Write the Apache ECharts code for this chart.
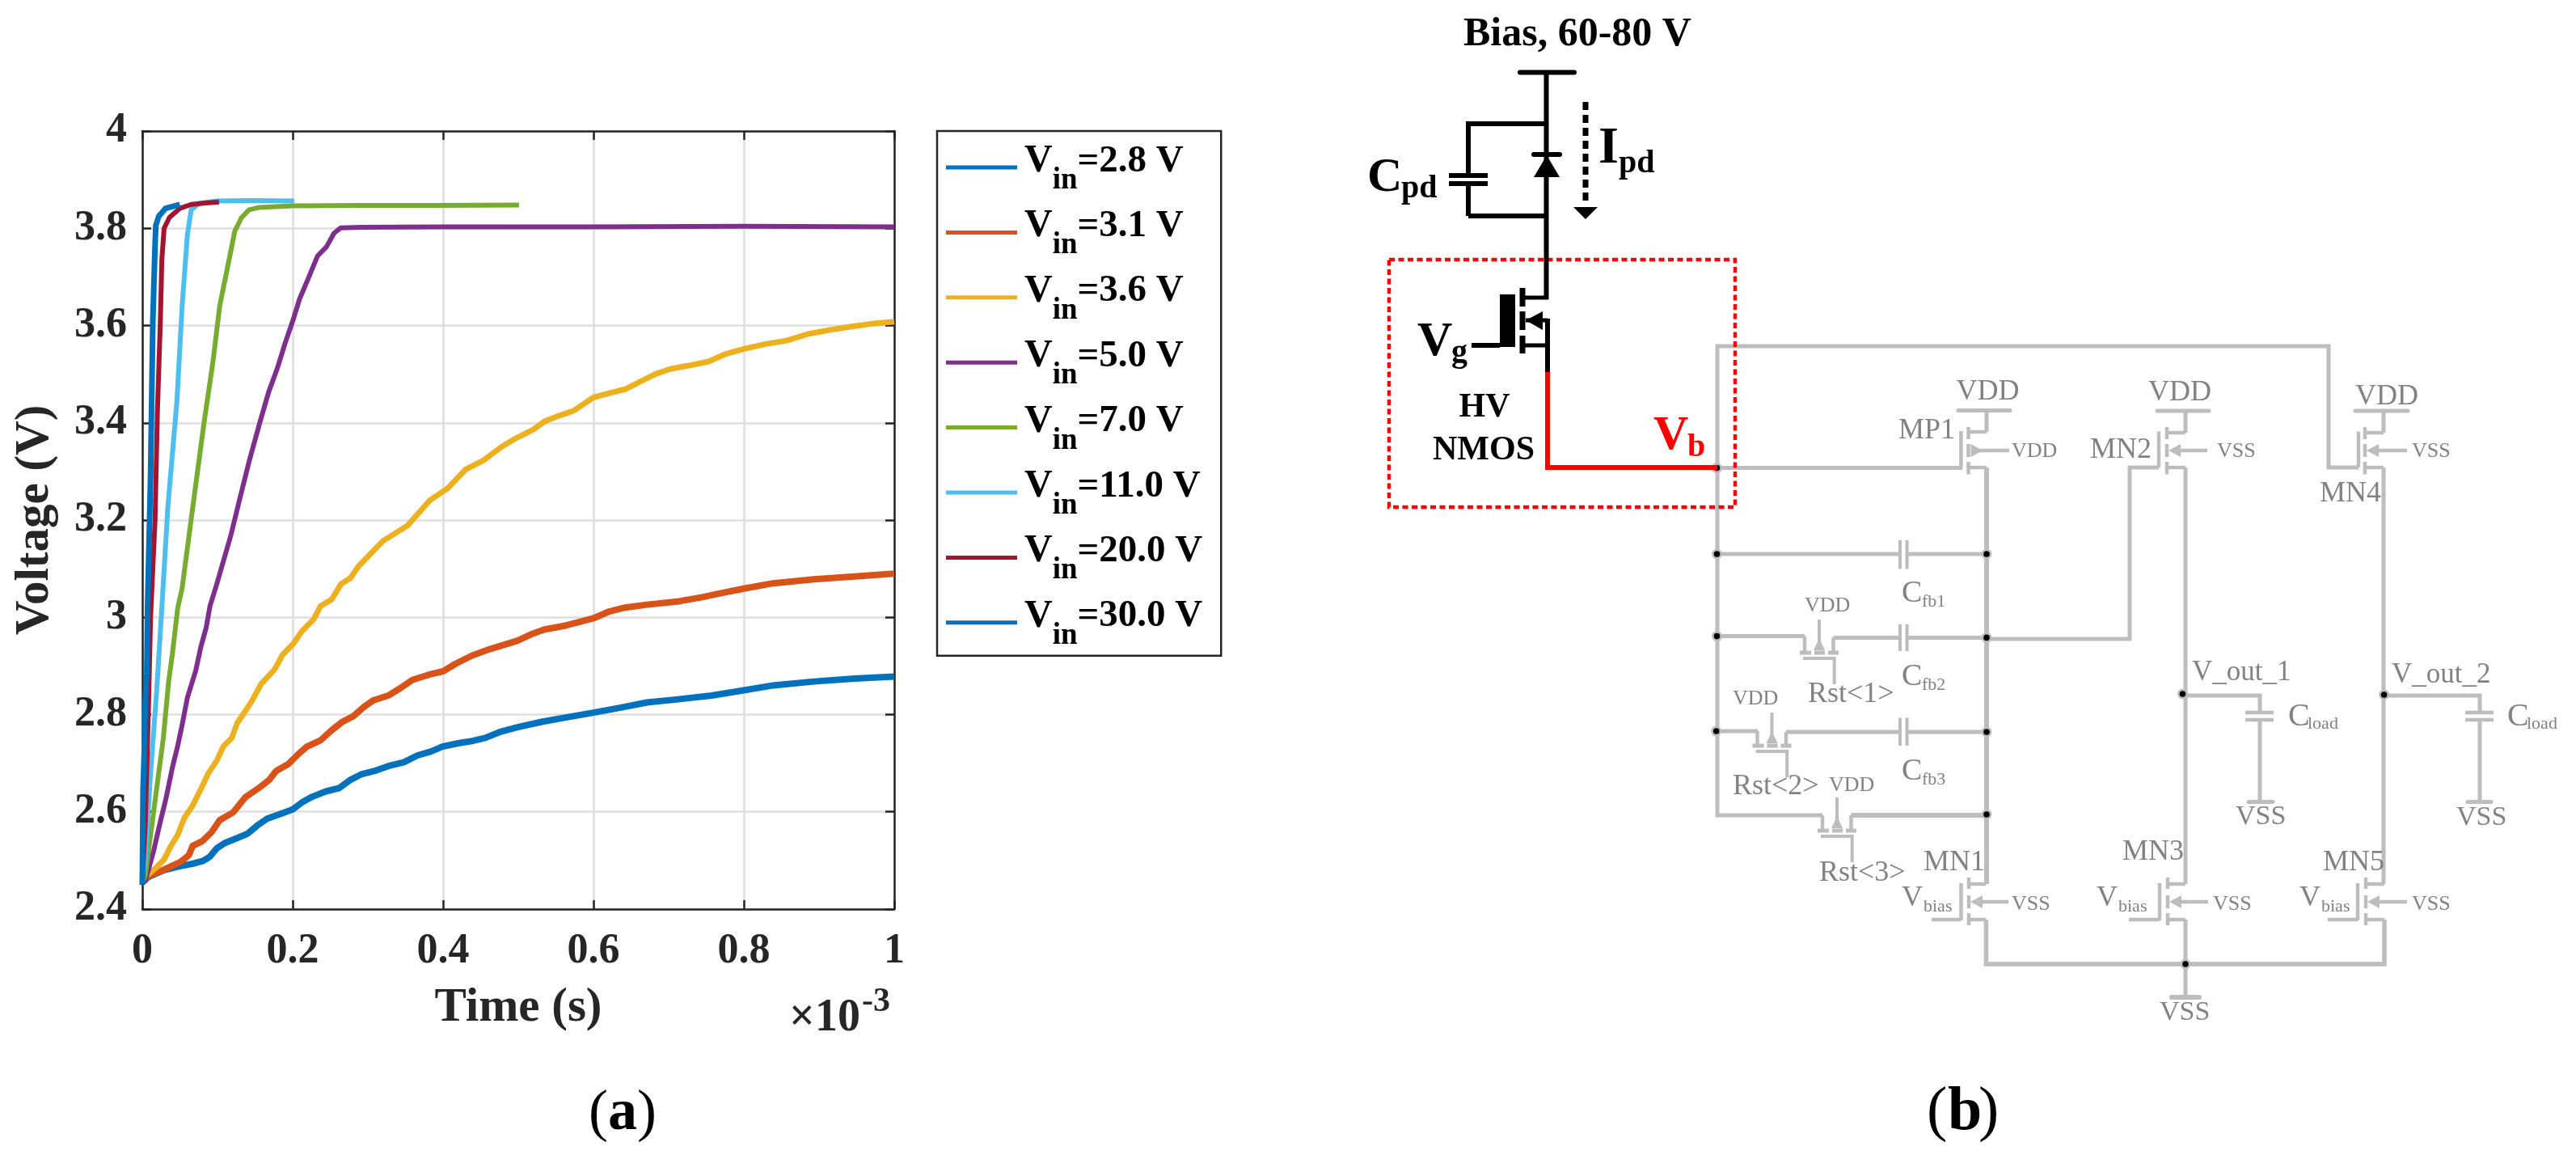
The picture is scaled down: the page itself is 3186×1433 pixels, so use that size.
<!DOCTYPE html>
<html><head><meta charset="utf-8">
<style>html,body{margin:0;padding:0;background:#fff}#c{width:3186px;height:1433px}</style>
<script src="https://cdn.jsdelivr.net/npm/echarts@6/dist/echarts.min.js"></script>
</head><body><div id="c"></div>
<script>
// ---- chart values: [time (x10^-3 s), voltage (V)] ----
const seriesNames = ['Vin=2.8 V','Vin=3.1 V','Vin=3.6 V','Vin=5.0 V','Vin=7.0 V','Vin=11.0 V','Vin=20.0 V','Vin=30.0 V'];
const seriesColors = ['#0072BD','#D95319','#EDB120','#7E2F8E','#77AC30','#4DBEEE','#A2142F','#0072BD'];
const seriesWidths = [8,8,7,6,6,6,6,7];
const xTickFormat = v => String(+v.toFixed(1));
const vin28 = [[0,2.455],[.008,2.466],[.029,2.480],[.047,2.487],[.069,2.494],[.081,2.499],[.090,2.508],[.099,2.525],[.110,2.536],[.126,2.546],[.140,2.555],[.153,2.572],[.166,2.586],[.184,2.596],[.200,2.605],[.212,2.619],[.226,2.631],[.244,2.642],[.262,2.649],[.277,2.666],[.291,2.677],[.309,2.684],[.327,2.694],[.348,2.702],[.366,2.716],[.384,2.724],[.399,2.734],[.420,2.741],[.440,2.746],[.456,2.752],[.477,2.765],[.499,2.774],[.531,2.785],[.563,2.794],[.600,2.804],[.635,2.814],[.671,2.825],[.710,2.831],[.757,2.839],[.800,2.850],[.839,2.860],[.893,2.868],[.947,2.874],[1,2.878]];
const vin31 = [[0,2.455],[.008,2.468],[.026,2.479],[.040,2.489],[.051,2.497],[.062,2.511],[.067,2.530],[.080,2.540],[.092,2.558],[.103,2.583],[.121,2.599],[.137,2.630],[.155,2.649],[.169,2.666],[.178,2.684],[.194,2.698],[.209,2.721],[.219,2.734],[.237,2.747],[.252,2.768],[.266,2.785],[.280,2.796],[.295,2.816],[.307,2.829],[.327,2.839],[.343,2.854],[.359,2.871],[.381,2.882],[.400,2.889],[.416,2.904],[.438,2.921],[.463,2.935],[.499,2.952],[.517,2.965],[.535,2.975],[.563,2.983],[.600,2.998],[.621,3.012],[.642,3.020],[.671,3.026],[.714,3.033],[.743,3.041],[.771,3.050],[.800,3.059],[.839,3.070],[.893,3.078],[.947,3.084],[1,3.090]];
const vin36 = [[0,2.455],[.004,2.466],[.019,2.486],[.029,2.502],[.038,2.530],[.047,2.552],[.056,2.588],[.067,2.613],[.078,2.647],[.088,2.680],[.099,2.705],[.108,2.735],[.119,2.752],[.126,2.782],[.137,2.807],[.146,2.829],[.158,2.863],[.176,2.893],[.187,2.924],[.201,2.946],[.212,2.971],[.228,2.996],[.237,3.023],[.252,3.037],[.264,3.068],[.277,3.081],[.287,3.104],[.320,3.157],[.353,3.189],[.382,3.240],[.406,3.265],[.430,3.304],[.454,3.323],[.478,3.351],[.499,3.370],[.520,3.386],[.535,3.403],[.553,3.414],[.574,3.425],[.592,3.444],[.600,3.452],[.621,3.461],[.642,3.469],[.660,3.483],[.682,3.500],[.703,3.511],[.728,3.518],[.753,3.526],[.775,3.541],[.800,3.552],[.829,3.562],[.857,3.569],[.886,3.583],[.915,3.591],[.943,3.598],[.972,3.604],[1,3.608]];
const vin50 = [[0,2.455],[.004,2.458],[.015,2.519],[.024,2.580],[.031,2.624],[.040,2.691],[.047,2.735],[.053,2.779],[.060,2.835],[.071,2.890],[.078,2.940],[.085,2.979],[.090,3.023],[.099,3.068],[.118,3.170],[.130,3.246],[.142,3.320],[.156,3.399],[.168,3.463],[.180,3.514],[.190,3.564],[.200,3.609],[.209,3.654],[.221,3.698],[.233,3.743],[.245,3.762],[.255,3.790],[.264,3.801],[.291,3.802],[.400,3.803],[.600,3.803],[.800,3.804],[1,3.803]];
const vin70 = [[0,2.455],[.004,2.469],[.011,2.552],[.019,2.647],[.028,2.752],[.035,2.868],[.040,2.924],[.047,3.018],[.053,3.060],[.065,3.202],[.082,3.399],[.094,3.526],[.103,3.641],[.113,3.717],[.123,3.794],[.132,3.822],[.142,3.838],[.156,3.843],[.200,3.846],[.291,3.847],[.387,3.847],[.501,3.848]];
const vin110 = [[0,2.455],[.004,2.502],[.011,2.680],[.019,2.846],[.026,3.020],[.034,3.227],[.046,3.444],[.053,3.641],[.060,3.787],[.065,3.838],[.075,3.851],[.099,3.856],[.147,3.857],[.202,3.856]];
const vin200 = [[0,2.455],[.004,2.580],[.008,2.800],[.011,3.000],[.017,3.202],[.020,3.418],[.024,3.609],[.026,3.736],[.029,3.800],[.036,3.822],[.050,3.841],[.065,3.849],[.084,3.852],[.102,3.854]];
const vin300 = [[0,2.450],[.001,2.647],[.003,2.741],[.004,2.829],[.006,2.885],[.007,3.020],[.011,3.291],[.014,3.609],[.017,3.768],[.018,3.806],[.022,3.825],[.031,3.841],[.050,3.849]];
const seriesValues = [vin28,vin31,vin36,vin50,vin70,vin110,vin200,vin300];

// ---- schematic (panel b) is a drawing, made of ECharts graphic elements ----
const SERIF = '"Liberation Serif"';
const GRAY='#bdbdbd', TXT='#828282', BLK='#000000', RED='#ff0000';
const g=[];
function W(pts,w,c,cap){g.push({type:'polyline',silent:true,shape:{points:pts},style:{stroke:c||GRAY,lineWidth:w||5,fill:null,lineCap:cap||'butt',lineJoin:'miter'}});}
function P(pts,c){g.push({type:'polygon',silent:true,shape:{points:pts},style:{fill:c||GRAY}});}
function T(s,x,base,size,c,bold,align){g.push({type:'text',silent:true,x:x,y:base-0.3375*size,style:{text:s,font:(bold?'bold ':'')+size+'px '+SERIF,fill:c||TXT,align:align||'left',verticalAlign:'middle'}});}
function N(x,y){g.push({type:'circle',silent:true,shape:{cx:x,cy:y,r:6.5},style:{fill:GRAY}});g.push({type:'circle',silent:true,shape:{cx:x,cy:y,r:3.8},style:{fill:'#000'}});}

function mos(gateX,segX,wireX,dy,barTop,barBot,drainY,srcY,segs,arrowTo,pmos){
  W([[gateX,barTop],[gateX,barBot]],4.5);
  segs.forEach(s=>W([[segX,s[0]],[segX,s[1]]],4.5));
  W([[segX,drainY],[wireX,drainY]],4.5); W([[segX,srcY],[wireX,srcY]],4.5);
  const ay=(segs[1][0]+segs[1][1])/2;
  if(pmos){W([[segX+5,ay],[arrowTo,ay]],4.5);P([[segX+18,ay],[segX+3,ay-8],[segX+3,ay+8]]);}
  else{W([[segX+14,ay],[arrowTo,ay]],4.5);P([[segX+2,ay],[segX+17,ay-8],[segX+17,ay+8]]);}
}
const upSegs=[[528,543],[549,565],[571,586.5]], loSegs=[[1085,1099],[1107,1123],[1129,1144]];
mos(2425.4,2434.5,2457,0,533,578.6,534,578,upSegs,2485,true);
mos(2670,2680,2703,0,533.5,578,535,578,upSegs,2730);
mos(2917,2925,2948,0,533.5,578,535,578,upSegs,2977);
W([[2457,534],[2457,508]],5);W([[2422,507.6],[2486,507.6]],5,GRAY,'round');
W([[2703,535],[2703,508]],5);W([[2668,508],[2732,508]],5,GRAY,'round');
W([[2948,535],[2948,508]],5);W([[2913,508],[2978,508]],5,GRAY,'round');
mos(2425.5,2435,2456.4,0,1092,1138,1093,1137,loSegs,2484);
mos(2671,2681,2703,0,1092,1138,1093,1137,loSegs,2731);
mos(2916,2926,2949,0,1092,1138,1093,1137,loSegs,2977);
W([[2389,1137],[2425,1137]],4.5);W([[2633,1137],[2671,1137]],4.5);W([[2879,1137],[2916,1137]],4.5);
function pass(l,y,leftWireY,rightWireY){
  const dy=y-807;
  W([[l,y],[l+14,y]],5);W([[l+18,y],[l+31,y]],5);W([[l+35,y],[l+48,y]],5);
  W([[l+4,814+dy],[l+42.7,814+dy],[l+42.7,846+dy]],4);
  W([[l+24,766+dy],[l+24,795+dy]],4);P([[l+24,793+dy-4],[l+17,804+dy],[l+31,804+dy]]);
  W([[l+6,leftWireY],[l+6,y]],4.5);W([[l+41.5,rightWireY],[l+41.5,y]],4.5);
}
W([[2254,1008],[2124,1008],[2124,428],[2880,428],[2880,578],[2917,578]],5);
W([[2124,578.6],[2427,578.6]],5);
W([[2457,578],[2457,1093]],6);
W([[2456.4,1137],[2456.4,1192],[2949,1192],[2949,1137]],5.5);
W([[2703,578],[2703,1093]],5);
W([[2948,578],[2948,1093]],5);
W([[2703,1137],[2703,1233]],5);
W([[2686,1233],[2720,1233]],6,GRAY,'round');
W([[2124,685],[2350,685]],5);W([[2358.6,685],[2457,685]],5);
function cap(y0,y1){W([[2350,y0],[2350,y1]],4);W([[2358.6,y0],[2358.6,y1]],4);}
cap(668,703.5);
W([[2124,786.6],[2232,786.6]],5);pass(2226,807,786.6,788.4);W([[2267.5,788.4],[2350,788.4]],5);W([[2358.6,788.4],[2457,788.4]],5);cap(772,805);
W([[2457,790],[2634,790],[2634,578],[2670,578]],5);
W([[2124,904],[2174,904]],5);pass(2167.5,922,904,905);W([[2209,905],[2350,905]],5);W([[2358.6,905],[2457,905]],5);cap(887.5,922);
pass(2248,1027,1008,1008);W([[2289.5,1008],[2457,1008]],6);
W([[2703,860],[2795,860],[2795,881]],5);W([[2777,881],[2812,881]],4.5);W([[2777,890],[2812,890]],4.5);W([[2795,890],[2795,991]],5);W([[2781,991.6],[2811,991.6]],5,GRAY,'round');
W([[2948,860],[3067,860],[3067,881]],5);W([[3049,881],[3084,881]],4.5);W([[3049,890],[3084,890]],4.5);W([[3067,890],[3067,991]],5);W([[3052,991.6],[3081,991.6]],5,GRAY,'round');
[[2123.5,578.6],[2123.5,685],[2457,685],[2123.5,786.6],[2457,788.4],[2122.7,904],[2457,905],[2457,1007],[2699.5,858],[2948.6,859],[2703,1192]].forEach(p=>N(p[0],p[1]));
T('VDD',2419.5,497,36);T('VDD',2657,497.4,36);T('VDD',2913,503,36);
T('MP1',2348,545,36);T('MN2',2585,569,36);T('MN4',2869,623,36);
T('VDD',2488,567,26);T('VSS',2742,567,26);T('VSS',2983,567,26);
T('VDD',2232,758,26);T('VDD',2143,873,26);T('VDD',2262,980,26);
T('Rst<1>',2236,871,36);T('Rst<2>',2143,985,36);T('Rst<3>',2250,1092,36);
[[2352,747,752,'fb1'],[2352,850,855,'fb2'],[2352,967,972,'fb3']].forEach(r=>{T('C',r[0],r[1],38);T(r[3],r[0]+25,r[2],22);});
T('V_out_1',2711,844,35);T('V_out_2',2958,847,35);
T('C',2830,900,40);T('load',2854,902.5,22);T('C',3101,900,40);T('load',3125,902.5,22);
T('VSS',2765,1022,34);T('VSS',3038,1023,34);T('VSS',2671,1264,34);
T('MN1',2379,1079,36);T('MN3',2625,1066,36);T('MN5',2873,1079,36);
T('VSS',2488,1127,26);T('VSS',2737,1127,26);T('VSS',2983,1127,26);
[2352,2593,2844].forEach(x=>{T('V',x,1123,36);T('bias',x+27,1129,22);});
W([[2124,578],[1914,578],[1914,460]],6,RED);
g.push({type:'rect',silent:true,shape:{x:1718,y:321,width:428,height:306},style:{stroke:RED,fill:null,lineWidth:4.5,lineDash:[7,4.5]}});
W([[1880,89.5],[1947,89.5]],6,BLK,'round');
W([[1912.5,89.5],[1912.5,370]],6,BLK);
W([[1914,394],[1914,460]],6,BLK);
W([[1816,267],[1816,230]],6,BLK);W([[1816,218],[1816,153],[1913,153]],6,BLK);W([[1816,267],[1913,267]],6,BLK);
W([[1792,217],[1840,217]],6,BLK);W([[1792,227],[1840,227]],6,BLK);
W([[1897,191],[1929,191]],6,BLK,'round');P([[1913,192],[1897,219],[1929,219]],BLK);
W([[1961,126],[1961,252]],7,BLK);
g[g.length-1].style.lineDash=[10,6];
P([[1946,256],[1976,256],[1961,271]],BLK);
W([[1885,368],[1915,368]],5,BLK);W([[1885,427],[1914,427]],5,BLK);W([[1887,396],[1914,396]],5,BLK);
[[356,379],[385,408],[415,437]].forEach(s=>W([[1883,s[0]],[1883,s[1]]],7,BLK));
g.push({type:'rect',silent:true,shape:{x:1855,y:364,width:19,height:65},style:{fill:BLK}});
W([[1820,427],[1855,427]],6,BLK);
P([[1887,396],[1908,385],[1908,408]],BLK);
T('Bias, 60-80 V',1810,60,50,BLK,true);
T('I',1977,206,64,BLK,true);T('pd',2002,216,40,BLK,true);
T('C',1691,241,60,BLK,true);T('pd',1733,247.5,40,BLK,true);
T('V',1753,444,60,BLK,true);T('g',1795,450,40,BLK,true);
T('HV',1836,518,42,BLK,true,'center');T('NMOS',1835,571,42,BLK,true,'center');
T('V',2045,560,60,RED,true);T('b',2087,567,40,RED,true);
T('(',728,1402,72,BLK);T('a',752,1402,72,BLK,true);T(')',788,1402,72,BLK);
T('(',2383,1402,76,BLK);T('b',2409,1402,76,BLK,true);T(')',2447,1402,76,BLK);
T('×',976,1278,56,'#262626',true);T('10',1008,1278,56,'#262626',true);T('-3',1066,1253,42,'#262626',true);

const tickFont={fontFamily:SERIF,fontWeight:'bold',fontSize:52,color:'#262626'};
const hiddenLabel={show:false};
const axisLine={show:true,onZero:false,lineStyle:{color:'#262626',width:2.5}};
const tick={show:true,inside:true,length:11,lineStyle:{color:'#262626',width:2.5}};
const option={
  animation:false,backgroundColor:'#fff',
  grid:{left:176,top:162,right:3186-1106,bottom:1433-1124,containLabel:false,outerBoundsMode:'none'},
  xAxis:[
    {type:'value',min:0,max:1,interval:.2,position:'bottom',axisLine,axisTick:tick,
     axisLabel:Object.assign({margin:27,formatter:xTickFormat,showMinLabel:true,showMaxLabel:true},tickFont),
     splitLine:{show:true,lineStyle:{color:'#dfdfdf',width:2.6}},
     name:'Time (s)',nameLocation:'middle',nameGap:93,nameTextStyle:{fontFamily:SERIF,fontWeight:'bold',fontSize:59,color:'#262626'}},
    {type:'value',min:0,max:1,interval:.2,position:'top',axisLine,axisTick:tick,axisLabel:hiddenLabel,splitLine:{show:false}}
  ],
  yAxis:[
    {type:'value',min:2.4,max:4,interval:.2,position:'left',axisLine,axisTick:tick,
     axisLabel:Object.assign({margin:19,showMinLabel:true,showMaxLabel:true,formatter:xTickFormat},tickFont),
     splitLine:{show:true,lineStyle:{color:'#dfdfdf',width:2.6}},
     name:'Voltage (V)',nameLocation:'middle',nameGap:103,nameRotate:90,nameTextStyle:{fontFamily:SERIF,fontWeight:'bold',fontSize:59,color:'#262626'}},
    {type:'value',min:2.4,max:4,interval:.2,position:'right',axisLine,axisTick:tick,axisLabel:hiddenLabel,splitLine:{show:false}}
  ],
  legend:{
    orient:'vertical',left:1159,top:162,data:seriesNames,icon:'rect',itemWidth:88,itemHeight:5,itemGap:10.4,
    padding:[10,23,6,11],borderColor:'#262626',borderWidth:2.5,backgroundColor:'#fff',selectedMode:false,
    formatter:n=>'{v|V}{s|in}{t|'+n.slice(3)+'}',
    textStyle:{rich:{
      v:{fontFamily:SERIF,fontWeight:'bold',fontSize:48,color:'#000',lineHeight:56,padding:[0,0,15,4]},
      s:{fontFamily:SERIF,fontWeight:'bold',fontSize:37,color:'#000',lineHeight:56,padding:[33,0,0,0]},
      t:{fontFamily:SERIF,fontWeight:'bold',fontSize:47,color:'#000',lineHeight:56,padding:[0,0,15,0]}
    }}
  },
  series:seriesNames.map((name,i)=>({
    name,type:'line',data:seriesValues[i],xAxisIndex:0,yAxisIndex:0,showSymbol:false,symbol:'none',smooth:false,
    lineStyle:{color:seriesColors[i],width:seriesWidths[i],join:'round'},itemStyle:{color:seriesColors[i]},z:2+i
  })),
  graphic:{elements:g}
};
echarts.init(document.getElementById('c'),null,{renderer:'canvas'}).setOption(option);
</script></body></html>
